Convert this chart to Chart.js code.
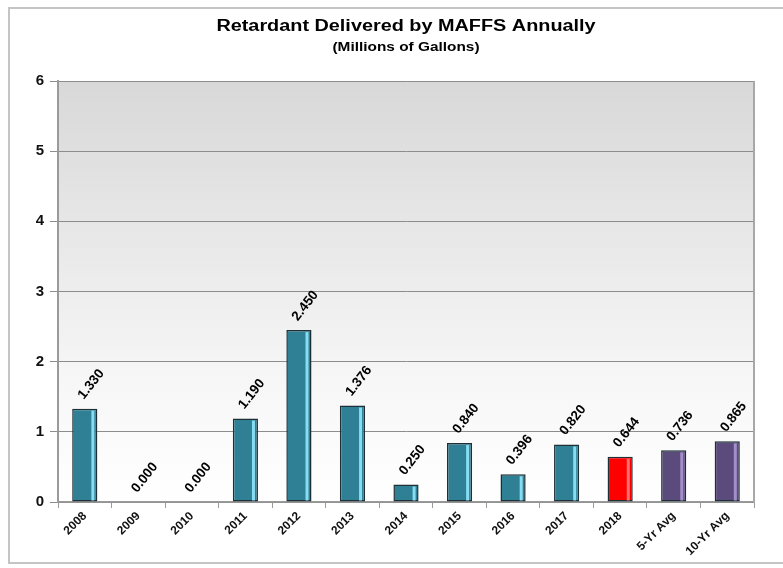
<!DOCTYPE html>
<html>
<head>
<meta charset="utf-8">
<script src="https://cdn.jsdelivr.net/npm/chart.js@4/dist/chart.umd.min.js"></script>
<style>
  html, body { margin: 0; padding: 0; background: #ffffff; }
  #wrap { position: relative; width: 783px; height: 568px; }
  #frame { position: absolute; left: 8px; top: 7px; width: 790px; height: 557px;
           border: 2px solid #c4c4c4; box-sizing: border-box; }
  canvas { position: absolute; left: 0; top: 0; }
</style>
</head>
<body>
<div id="wrap">
  <div id="frame"></div>
  <canvas id="c" width="783" height="568"></canvas>
</div>
<script>
// Annual MAFFS retardant deliveries, millions of gallons
const categories = ['2008', '2009', '2010', '2011', '2012', '2013', '2014', '2015', '2016', '2017', '2018', '5-Yr Avg', '10-Yr Avg'];
const gallons = [1.330, 0.000, 0.000, 1.190, 2.450, 1.376, 0.250, 0.840, 0.396, 0.820, 0.644, 0.736, 0.865];
const yTicks = [0, 1, 2, 3, 4, 5, 6];
const titleText = 'Retardant Delivered by MAFFS Annually';
const subtitleText = '(Millions of Gallons)';

const FONT = '"Liberation Sans", Arial, sans-serif';

// bar colours: history in teal, the current year red, averages purple
const barFill = categories.map(c =>
  c.includes('Avg') ? '#5b4a7c' : (c === '2018' ? '#ff0000' : '#2f7f95'));
const barShine = categories.map(c =>
  c.includes('Avg') ? '#a48fcc' : (c === '2018' ? '#ff7070' : '#86dcf2'));

// vertical grey-to-white wash behind the plot
const plotBackground = {
  id: 'plotBackground',
  beforeDraw(chart) {
    const { ctx, chartArea: a } = chart;
    const g = ctx.createLinearGradient(0, a.top, 0, a.bottom);
    g.addColorStop(0, '#d8d8d8');
    g.addColorStop(0.72, '#f7f7f7');
    g.addColorStop(1, '#ffffff');
    ctx.save();
    ctx.fillStyle = g;
    ctx.fillRect(a.left, a.top, a.right - a.left, a.bottom - a.top);
    ctx.restore();
  },
  afterDraw(chart) {
    const { ctx, chartArea: a } = chart;
    ctx.save();
    ctx.strokeStyle = '#a8a8a8';
    ctx.lineWidth = 2;
    ctx.beginPath();
    ctx.moveTo(a.right, a.top);
    ctx.lineTo(a.right, a.bottom);
    ctx.stroke();
    ctx.restore();
  }
};

// headings centred over the plot, set in a wide bold face
const headings = {
  id: 'headings',
  afterDraw(chart) {
    const { ctx, chartArea: a } = chart;
    const cx = (a.left + a.right) / 2;
    const line = (text, size, y, stretch) => {
      ctx.save();
      ctx.translate(cx, y);
      ctx.scale(stretch, 1);
      ctx.font = 'bold ' + size + 'px ' + FONT;
      ctx.fillText(text, 0, 0);
      ctx.restore();
    };
    ctx.save();
    ctx.fillStyle = '#000';
    ctx.textAlign = 'center';
    ctx.textBaseline = 'middle';
    line(titleText, 16, 27, 1.24);
    line(subtitleText, 13.5, 47, 1.14);
    ctx.restore();
  }
};

// glossy stripe on each bar plus slanted value labels
const barDecor = {
  id: 'barDecor',
  afterDatasetsDraw(chart) {
    const { ctx } = chart;
    const meta = chart.getDatasetMeta(0);
    ctx.save();
    meta.data.forEach((bar, i) => {
      const v = gallons[i];
      const h = bar.base - bar.y;
      if (h > 4) {
        const right = bar.x + bar.width / 2;
        ctx.fillStyle = barShine[i];
        ctx.fillRect(right - 6, bar.y + 2, 3, h - 3);
      }
      ctx.save();
      ctx.translate(bar.x - 4, bar.y - 11);
      ctx.rotate(-52 * Math.PI / 180);
      ctx.font = 'bold 13.5px ' + FONT;
      ctx.fillStyle = '#000';
      ctx.textAlign = 'left';
      ctx.textBaseline = 'middle';
      ctx.fillText(v.toFixed(3), 0, 0);
      ctx.restore();
    });
    ctx.restore();
  }
};

new Chart(document.getElementById('c'), {
  type: 'bar',
  data: {
    labels: categories,
    datasets: [{
      data: gallons,
      backgroundColor: barFill,
      borderColor: '#1e2f36',
      borderWidth: 1.5,
      borderSkipped: false,
      barPercentage: 0.94,
      categoryPercentage: 0.5
    }]
  },
  options: {
    responsive: false,
    animation: false,
    devicePixelRatio: 1,
    layout: { padding: { left: 0, top: 81, right: 29, bottom: 0 } },
    plugins: { legend: { display: false }, tooltip: { enabled: false }, title: { display: false } },
    scales: {
      x: {
        grid: { display: true, offset: true, drawOnChartArea: false, drawTicks: true, tickLength: 6, color: '#9a9a9a', lineWidth: 1 },
        border: { display: true, color: '#9a9a9a', width: 1.5 },
        ticks: {
          color: '#111',
          font: { family: FONT, size: 12, weight: 'bold' },
          minRotation: 45, maxRotation: 45, padding: 1, autoSkip: false
        },
        afterFit(scale) { scale.height = 66; }
      },
      y: {
        min: 0, max: 6,
        afterBuildTicks(scale) { scale.ticks = yTicks.map(v => ({ value: v })); },
        grid: { color: '#8c8c8c', lineWidth: 1, drawTicks: true, tickLength: 8 },
        border: { display: true, color: '#9a9a9a', width: 2 },
        ticks: {
          color: '#111',
          font: { family: FONT, size: 15, weight: 'bold' },
          padding: 6
        },
        afterFit(scale) { scale.width = 58; }
      }
    }
  },
  plugins: [plotBackground, barDecor, headings]
});
</script>
</body>
</html>
